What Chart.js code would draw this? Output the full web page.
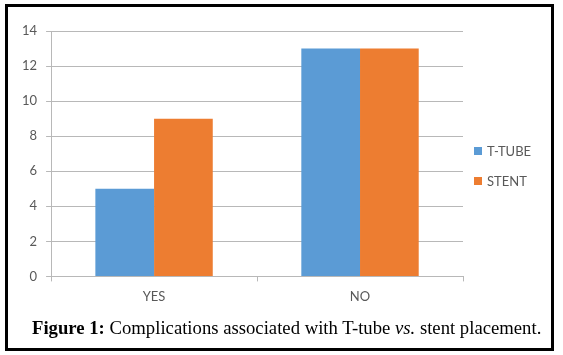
<!DOCTYPE html>
<html>
<head>
<meta charset="utf-8">
<script src="https://cdn.jsdelivr.net/npm/chart.js@4.4.0/dist/chart.umd.min.js"></script>
<style>
    body { margin: 0; background: #fff; }
    #wrap { position: relative; width: 563px; height: 355px; overflow: hidden; }
    #frame { position: absolute; left: 5px; top: 4px; width: 549px; height: 347px; border: 3px solid #000; box-sizing: border-box; }
    #predictionChart { position: absolute; left: 0; top: 0; }
    #legendBox { position: absolute; left: 474px; top: 145px; font: 13px Lato, sans-serif; color: #595959; }
    .item { display: flex; align-items: center; height: 12px; margin-bottom: 18px; white-space: nowrap; }
    .swatch { width: 8px; height: 8px; margin-right: 5px; }
    #caption { position: absolute; left: 32px; top: 319px; font: 18.7px/18.5px "Liberation Serif", "Times New Roman", serif; color: #000; white-space: nowrap; }
</style>
</head>
<body>
<div id="wrap">
    <canvas id="predictionChart" width="563" height="355"></canvas>
    <div id="legendBox"></div>
    <div id="frame"></div>
    <div id="caption"><b>Figure 1:</b> Complications associated with T-tube <i>vs.</i> stent placement.</div>
</div>
<script>
// values
const categories = ['YES', 'NO'];
const tTubeValues = [5, 13];
const stentValues = [9, 13];
const seriesNames = ['T-TUBE', 'STENT'];
const seriesColors = ['#5B9BD5', '#ED7D31'];
const yMax = 14;
const yStep = 2;

const gridColor = '#b8b8b8';
const textColor = '#595959';

// html legend, built from the chart's own legend items
const htmlLegend = {
    id: 'htmlLegend',
    afterUpdate(chart) {
        const box = document.getElementById('legendBox');
        box.innerHTML = '';
        const items = chart.options.plugins.legend.labels.generateLabels(chart);
        items.forEach(item => {
            const row = document.createElement('div');
            row.className = 'item';
            const sw = document.createElement('span');
            sw.className = 'swatch';
            sw.style.background = item.fillStyle;
            const txt = document.createElement('span');
            txt.textContent = item.text;
            row.appendChild(sw);
            row.appendChild(txt);
            box.appendChild(row);
        });
    }
};

const ctx = document.getElementById('predictionChart').getContext('2d');

const data = {
    labels: categories,
    datasets: [{
        label: seriesNames[0],
        data: tTubeValues,
        backgroundColor: seriesColors[0],
        borderWidth: 0
    }, {
        label: seriesNames[1],
        data: stentValues,
        backgroundColor: seriesColors[1],
        borderWidth: 0
    }]
};

const config = {
    type: 'bar',
    data: data,
    plugins: [htmlLegend],
    options: {
        responsive: false,
        animation: false,
        layout: {
            padding: { left: 13, top: 31, right: 100, bottom: 42 }
        },
        datasets: {
            bar: { barPercentage: 1, categoryPercentage: 0.57 }
        },
        plugins: {
            legend: { display: false },
            tooltip: { enabled: false }
        },
        scales: {
            x: {
                grid: { drawOnChartArea: false, drawTicks: true, tickLength: 5, color: gridColor },
                border: { color: gridColor, width: 1 },
                ticks: { color: textColor, font: { family: 'Lato', size: 13 }, padding: 8 }
            },
            y: {
                beginAtZero: true,
                min: 0,
                max: yMax,
                grid: { color: gridColor, tickLength: 5, lineWidth: 1 },
                border: { color: gridColor, width: 1 },
                ticks: { stepSize: yStep, color: textColor, font: { family: 'Lato', size: 13 }, padding: 9 }
            }
        }
    }
};

const predictionChart = new Chart(ctx, config);
</script>
</body>
</html>
